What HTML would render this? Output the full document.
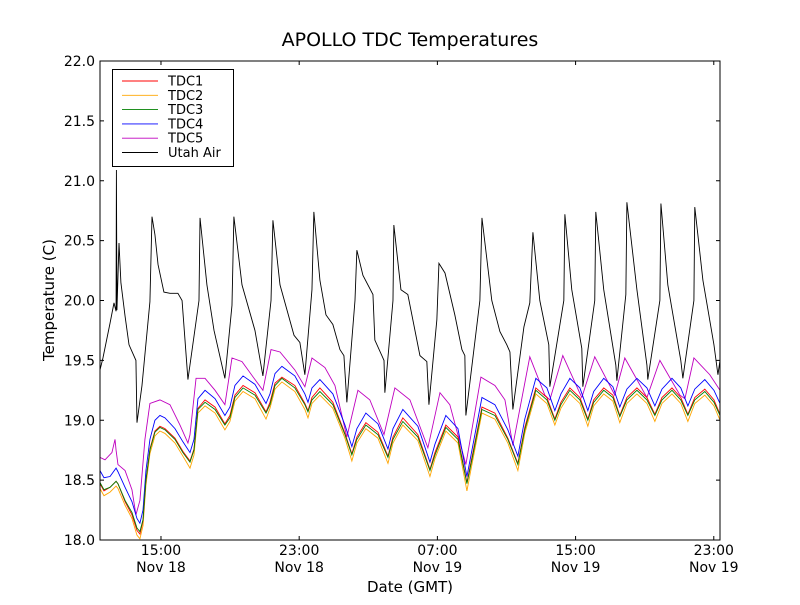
<!DOCTYPE html>
<html><head><meta charset="utf-8"><style>
body{margin:0;background:#fff;}
svg text{font-family:"DejaVu Sans","Liberation Sans",sans-serif;fill:#000;}
</style></head><body>
<svg id="chart" width="800" height="600" viewBox="0 0 800 600">
<rect x="0" y="0" width="800" height="600" fill="#fff"/>
<text x="410" y="46" font-size="19" text-anchor="middle">APOLLO TDC Temperatures</text>
<text transform="translate(54,300) rotate(-90)" font-size="15" text-anchor="middle">Temperature (C)</text>
<text x="410" y="592" font-size="15" text-anchor="middle">Date (GMT)</text>
<g id="plot"></g>
</svg>
<script>
// time in hours since 00:00 Nov 18 (GMT)
const yTicks = [18.0,18.5,19.0,19.5,20.0,20.5,21.0,21.5,22.0];
const xTickHours = [15,23,31,39,47];
const xTickLabels = [["15:00","Nov 18"],["23:00","Nov 18"],["07:00","Nov 19"],["15:00","Nov 19"],["23:00","Nov 19"]];
const seriesNames = ["TDC1","TDC2","TDC3","TDC4","TDC5","Utah Air"];

const tdcTimes = [11.47,11.70,12.05,12.40,12.51,12.92,13.32,13.61,13.78,13.96,14.13,14.36,14.65,14.94,15.23,15.81,16.27,16.68,16.91,17.14,17.55,18.13,18.70,18.99,19.28,19.75,20.44,21.08,21.31,21.60,22.00,22.75,23.33,23.51,23.74,24.20,24.95,25.65,26.05,26.34,26.86,27.56,28.14,28.43,29.00,29.87,30.57,30.86,31.49,32.19,32.71,33.00,33.58,34.33,35.08,35.66,36.06,36.70,37.34,37.80,38.15,38.67,39.25,39.71,40.05,40.63,41.16,41.56,41.97,42.55,43.13,43.59,44.00,44.58,45.09,45.50,45.90,46.48,47.01,47.36];
const tdc1 = [18.47,18.41,18.44,18.49,18.47,18.32,18.21,18.08,18.05,18.16,18.50,18.76,18.91,18.95,18.93,18.85,18.74,18.66,18.76,19.10,19.17,19.11,18.97,19.04,19.21,19.29,19.23,19.07,19.15,19.31,19.36,19.29,19.14,19.08,19.19,19.27,19.15,18.89,18.72,18.86,18.98,18.90,18.70,18.86,19.02,18.88,18.59,18.73,18.96,18.86,18.48,18.69,19.11,19.06,18.85,18.64,18.94,19.27,19.19,19.01,19.15,19.27,19.19,19.01,19.17,19.27,19.21,19.04,19.19,19.27,19.19,19.05,19.19,19.27,19.19,19.05,19.19,19.26,19.17,19.05];
const tdc2 = [18.43,18.37,18.40,18.45,18.43,18.29,18.18,18.04,18.01,18.12,18.46,18.72,18.87,18.91,18.89,18.81,18.70,18.60,18.71,19.06,19.12,19.06,18.92,18.99,19.16,19.24,19.18,19.01,19.10,19.26,19.32,19.24,19.09,19.02,19.14,19.21,19.10,18.85,18.66,18.81,18.93,18.85,18.64,18.81,18.96,18.83,18.53,18.68,18.91,18.81,18.41,18.63,19.06,19.01,18.81,18.58,18.89,19.22,19.14,18.96,19.10,19.22,19.14,18.95,19.12,19.22,19.16,18.98,19.14,19.22,19.14,18.99,19.14,19.22,19.14,18.99,19.14,19.21,19.12,19.00];
const tdc3 = [18.48,18.42,18.44,18.49,18.47,18.33,18.23,18.10,18.07,18.17,18.50,18.75,18.90,18.94,18.92,18.84,18.73,18.65,18.75,19.09,19.15,19.09,18.96,19.02,19.19,19.27,19.21,19.06,19.13,19.29,19.35,19.27,19.13,19.07,19.17,19.24,19.13,18.88,18.71,18.84,18.96,18.88,18.69,18.84,18.99,18.86,18.58,18.71,18.94,18.84,18.47,18.67,19.09,19.04,18.84,18.63,18.92,19.25,19.17,19.00,19.13,19.25,19.17,19.00,19.15,19.25,19.19,19.03,19.17,19.25,19.17,19.04,19.17,19.25,19.17,19.04,19.17,19.24,19.15,19.04];
const tdc4 = [18.58,18.52,18.53,18.60,18.57,18.44,18.32,18.18,18.14,18.25,18.58,18.84,19.00,19.04,19.02,18.93,18.82,18.73,18.84,19.18,19.25,19.18,19.04,19.11,19.29,19.37,19.30,19.14,19.22,19.39,19.45,19.37,19.22,19.15,19.27,19.34,19.22,18.96,18.78,18.93,19.06,18.97,18.76,18.93,19.09,18.95,18.65,18.80,19.04,18.93,18.53,18.75,19.19,19.13,18.92,18.70,19.01,19.35,19.27,19.08,19.22,19.35,19.27,19.08,19.24,19.35,19.28,19.11,19.26,19.35,19.27,19.12,19.26,19.35,19.27,19.12,19.26,19.34,19.25,19.14];

const tdc5Times = [11.47,11.76,12.16,12.34,12.40,12.51,12.92,13.32,13.55,13.78,14.07,14.36,14.94,15.52,16.10,16.56,16.68,17.03,17.55,18.13,18.70,19.11,19.69,20.44,20.90,21.37,21.89,22.75,23.33,23.74,24.49,25.07,25.76,26.40,27.09,27.91,28.54,29.41,30.45,31.15,31.72,32.65,33.52,34.33,34.91,35.37,36.35,37.22,37.51,38.26,39.36,40.11,41.27,41.85,43.13,43.88,45.04,45.33,45.85,46.77,47.36];
const tdc5 = [18.69,18.67,18.73,18.84,18.75,18.63,18.58,18.42,18.21,18.33,18.84,19.14,19.17,19.13,18.96,18.81,18.88,19.35,19.35,19.25,19.13,19.52,19.49,19.34,19.25,19.59,19.57,19.42,19.28,19.52,19.44,19.29,18.86,19.25,19.17,18.88,19.27,19.17,18.77,19.23,19.13,18.63,19.36,19.29,19.17,18.79,19.53,19.21,19.17,19.54,19.19,19.53,19.21,19.52,19.19,19.50,19.21,19.18,19.52,19.38,19.25];

const airTimes = [11.47,11.64,12.05,12.28,12.40,12.42,12.45,12.57,12.68,12.92,13.15,13.55,13.61,13.90,14.36,14.48,14.65,14.83,15.17,15.52,15.98,16.22,16.56,17.20,17.26,17.66,18.07,18.70,19.11,19.22,19.69,20.44,20.90,21.37,21.48,21.89,22.70,23.04,23.33,23.74,23.85,24.20,24.55,24.95,25.36,25.59,25.76,26.23,26.34,26.69,27.27,27.38,27.91,27.96,28.43,28.48,28.89,29.29,29.99,30.39,30.51,30.97,31.09,31.44,32.01,32.42,32.59,32.65,33.46,33.58,34.15,34.62,35.02,35.20,35.37,36.01,36.35,36.53,36.93,37.45,37.51,38.32,38.38,38.78,39.36,39.42,40.11,40.17,40.63,41.33,41.39,41.91,41.97,42.55,43.13,43.18,43.88,43.94,44.34,45.09,45.21,45.85,45.90,46.37,47.01,47.24,47.36];
const airTemps = [19.42,19.52,19.81,19.98,19.91,21.09,19.92,20.48,20.15,19.87,19.63,19.50,18.98,19.29,19.99,20.70,20.55,20.30,20.07,20.06,20.06,20.00,19.34,20.00,20.69,20.13,19.75,19.35,19.96,20.70,20.13,19.75,19.37,20.00,20.67,20.13,19.71,19.65,19.38,20.09,20.74,20.17,19.88,19.80,19.59,19.54,19.15,20.00,20.42,20.21,20.05,19.67,19.50,19.23,20.00,20.63,20.09,20.05,19.54,19.49,19.13,19.84,20.31,20.23,19.88,19.59,19.54,19.04,20.00,20.69,20.00,19.74,19.63,19.57,19.09,19.78,19.98,20.57,20.00,19.63,19.28,20.00,20.72,20.09,19.60,19.28,20.00,20.74,20.09,19.46,19.33,20.05,20.82,20.09,19.46,19.34,20.00,20.81,20.13,19.50,19.35,20.00,20.78,20.17,19.63,19.38,19.50];

const NS = "http://www.w3.org/2000/svg";
const L = 100, R = 720, T = 61, B = 540;
const tMin = 11.47, tMax = 47.36, vMin = 18.0, vMax = 22.0;
function xs(t){ return L + (t - tMin) / (tMax - tMin) * (R - L); }
function ys(v){ return B - (v - vMin) / (vMax - vMin) * (B - T); }
const plot = document.getElementById('plot');
function mk(tag, attrs, parent){ const e = document.createElementNS(NS, tag); for (const k in attrs) e.setAttribute(k, attrs[k]); (parent||plot).appendChild(e); return e; }

const clip = mk('clipPath', {id:'pc'});
mk('rect', {x:L, y:T, width:R-L, height:B-T}, clip);

function line(times, vals, color, name){
  const d = times.map((t,i)=>(i?'L':'M') + xs(t).toFixed(2) + ' ' + ys(vals[i]).toFixed(2)).join(' ');
  const p = mk('path', {d:d, fill:'none', stroke:color, 'stroke-width':0.9, 'clip-path':'url(#pc)'});
  
  
}
line(airTimes, airTemps, '#000000', 'utah-air-line');
line(tdc5Times, tdc5, '#bf00bf', 'tdc5-line');
line(tdcTimes, tdc4, '#0000ff', 'tdc4-line');
line(tdcTimes, tdc2, '#ffa500', 'tdc2-line');
line(tdcTimes, tdc1, '#ff0000', 'tdc1-line');
line(tdcTimes, tdc3, '#008000', 'tdc3-line');

const frame = mk('rect', {x:L, y:T, width:R-L, height:B-T, fill:'none', stroke:'#000', 'stroke-width':1});



yTicks.forEach(v=>{
  const y = ys(v);
  mk('line', {x1:L, x2:L+4, y1:y, y2:y, stroke:'#000'});
  mk('line', {x1:R-4, x2:R, y1:y, y2:y, stroke:'#000'});
  const tx = mk('text', {x:L-5, y:y+5, 'font-size':14, 'text-anchor':'end'});
  tx.textContent = v.toFixed(1);
  
  
});
xTickHours.forEach((h,i)=>{
  const x = xs(h);
  mk('line', {x1:x, x2:x, y1:B, y2:B-4, stroke:'#000'});
  mk('line', {x1:x, x2:x, y1:T, y2:T+4, stroke:'#000'});
  const tx = mk('text', {x:x, y:555, 'font-size':14, 'text-anchor':'middle'});
  tx.textContent = xTickLabels[i][0];
  
  
  const tx2 = mk('text', {x:x, y:572, 'font-size':14, 'text-anchor':'middle'});
  tx2.textContent = xTickLabels[i][1];
  
  
});

const legendColors = ['#ff0000','#ffa500','#008000','#0000ff','#bf00bf','#000000'];
const lg = mk('g', {});


mk('rect', {x:112.5, y:69.5, width:121, height:97, fill:'#fff', stroke:'#000'}, lg);
seriesNames.forEach((n,i)=>{
  const y = 81 + i*14.3;
  const g = mk('g', {}, lg);
  
  
  mk('line', {x1:122, x2:158, y1:y, y2:y, stroke:legendColors[i], 'stroke-width':0.9}, g);
  const t = mk('text', {x:168, y:y+4.5, 'font-size':13}, g);
  t.textContent = n;
});
</script>
</body></html>
